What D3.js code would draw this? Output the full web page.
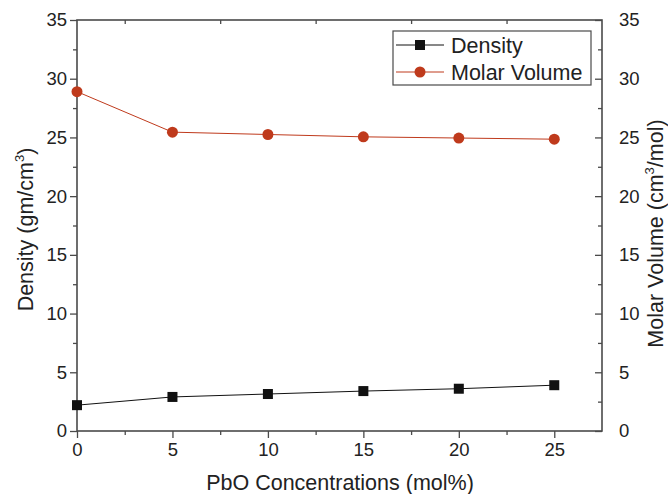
<!DOCTYPE html>
<html>
<head>
<meta charset="utf-8">
<script src="https://cdn.jsdelivr.net/npm/d3@7"></script>
<style>
  body { margin: 0; background: #fff; }
  svg { display: block; font-family: "Liberation Sans", Arial, sans-serif; }
</style>
</head>
<body>
<svg id="chart" width="668" height="494"></svg>
<script>
// PbO content (mol%) and measured properties
const concentrations = [0, 5, 10, 15, 20, 25];
const density = [2.2, 2.9, 3.15, 3.4, 3.6, 3.9];          // gm/cm^3
const molarVolume = [28.9, 25.45, 25.25, 25.05, 24.95, 24.85]; // cm^3/mol
const xTicks = [0, 5, 10, 15, 20, 25];
const yTicks = [0, 5, 10, 15, 20, 25, 30, 35];

const m = { left: 77, right: 602, top: 20, bottom: 431 };
const red = "#bf3a1c";
const axisColor = "#4a4a4a";
const tickFont = 18.5;
const titleFont = 21.5;

const svg = d3.select("#chart");

const x = d3.scaleLinear().domain([0, 27.5]).range([m.left, m.right]);
const yL = d3.scaleLinear().domain([0, 35]).range([m.bottom, m.top]);
const yR = d3.scaleLinear().domain([0, 35]).range([m.bottom, m.top]);

const minorX = d3.range(2.5, 27.5, 5);
const minorY = d3.range(2.5, 35, 5);

function styleAxis(g) {
  g.select(".domain").remove();
  g.selectAll("line").attr("stroke", axisColor).attr("stroke-width", 1.3);
  g.selectAll("text").attr("fill", "#222").attr("font-size", tickFont);
}

// bottom axis: majors and minors pointing outward
svg.append("g").attr("transform", `translate(0,${m.bottom})`)
  .call(d3.axisBottom(x).tickValues(xTicks).tickSize(7).tickPadding(5).tickFormat(d3.format("d")))
  .call(styleAxis);
svg.append("g").attr("transform", `translate(0,${m.bottom})`)
  .call(d3.axisBottom(x).tickValues(minorX).tickSize(4).tickFormat(""))
  .call(styleAxis);

// top axis: minor marks pointing inward
svg.append("g").attr("transform", `translate(0,${m.top})`)
  .call(d3.axisBottom(x).tickValues(minorX).tickSize(4).tickFormat(""))
  .call(styleAxis);

// left axis
svg.append("g").attr("transform", `translate(${m.left},0)`)
  .call(d3.axisLeft(yL).tickValues(yTicks).tickSize(7).tickPadding(3).tickFormat(d3.format("d")))
  .call(styleAxis);
svg.append("g").attr("transform", `translate(${m.left},0)`)
  .call(d3.axisLeft(yL).tickValues(minorY).tickSize(4).tickFormat(""))
  .call(styleAxis);

// right axis: ticks inward, labels outside
svg.append("g").attr("transform", `translate(${m.right},0)`)
  .call(d3.axisRight(yR).tickValues(yTicks).tickSize(-7).tickPadding(17).tickFormat(d3.format("d")))
  .call(styleAxis);
svg.append("g").attr("transform", `translate(${m.right},0)`)
  .call(d3.axisRight(yR).tickValues(minorY).tickSize(-4).tickFormat(""))
  .call(styleAxis);

// frame
svg.append("rect")
  .attr("x", m.left).attr("y", m.top)
  .attr("width", m.right - m.left).attr("height", m.bottom - m.top)
  .attr("fill", "none").attr("stroke", axisColor).attr("stroke-width", 1.6);

// axis titles
svg.append("text")
  .attr("x", 340).attr("y", 490)
  .attr("text-anchor", "middle").attr("font-size", titleFont).attr("fill", "#222")
  .text("PbO Concentrations (mol%)");

const tl = svg.append("text")
  .attr("transform", `translate(33,${(m.top + m.bottom) / 2 + 4}) rotate(-90)`)
  .attr("text-anchor", "middle").attr("font-size", titleFont).attr("fill", "#222");
tl.append("tspan").text("Density (gm/cm");
tl.append("tspan").attr("font-size", 13).attr("dy", -9).text("3");
tl.append("tspan").attr("dy", 9).text(")");

const tr = svg.append("text")
  .attr("transform", `translate(663,${(m.top + m.bottom) / 2 + 8}) rotate(-90)`)
  .attr("text-anchor", "middle").attr("font-size", titleFont).attr("fill", "#222");
tr.append("tspan").text("Molar Volume (cm");
tr.append("tspan").attr("font-size", 13).attr("dy", -9).text("3");
tr.append("tspan").attr("dy", 9).text("/mol)");

// series
const densPts = concentrations.map((c, i) => [c, density[i]]);
const mvPts = concentrations.map((c, i) => [c, molarVolume[i]]);

svg.append("path")
  .attr("d", d3.line().x(d => x(d[0])).y(d => yL(d[1]))(densPts))
  .attr("fill", "none").attr("stroke", "#111").attr("stroke-width", 1);
svg.selectAll(".sq").data(densPts).enter().append("rect")
  .attr("x", d => x(d[0]) - 5).attr("y", d => yL(d[1]) - 5)
  .attr("width", 10).attr("height", 10).attr("fill", "#111");

svg.append("path")
  .attr("d", d3.line().x(d => x(d[0])).y(d => yR(d[1]))(mvPts))
  .attr("fill", "none").attr("stroke", red).attr("stroke-width", 1);
svg.selectAll(".ci").data(mvPts).enter().append("circle")
  .attr("cx", d => x(d[0])).attr("cy", d => yR(d[1]))
  .attr("r", 5.5).attr("fill", red);

// legend
const lg = svg.append("g");
lg.append("rect").attr("x", 393).attr("y", 31).attr("width", 198).attr("height", 54)
  .attr("fill", "#fff").attr("stroke", axisColor).attr("stroke-width", 1.2);
const legendItems = [
  { label: "Density", color: "#111", shape: "square", y: 45 },
  { label: "Molar Volume", color: red, shape: "circle", y: 72 }
];
legendItems.forEach(it => {
  lg.append("line").attr("x1", 396).attr("x2", 444).attr("y1", it.y).attr("y2", it.y)
    .attr("stroke", it.color).attr("stroke-width", 1);
  if (it.shape === "square") {
    lg.append("rect").attr("x", 415).attr("y", it.y - 5).attr("width", 10).attr("height", 10).attr("fill", it.color);
  } else {
    lg.append("circle").attr("cx", 420).attr("cy", it.y).attr("r", 5.5).attr("fill", it.color);
  }
  lg.append("text").attr("x", 451).attr("y", it.y + 8).attr("font-size", titleFont).attr("fill", "#222").text(it.label);
});
</script>
</body>
</html>
